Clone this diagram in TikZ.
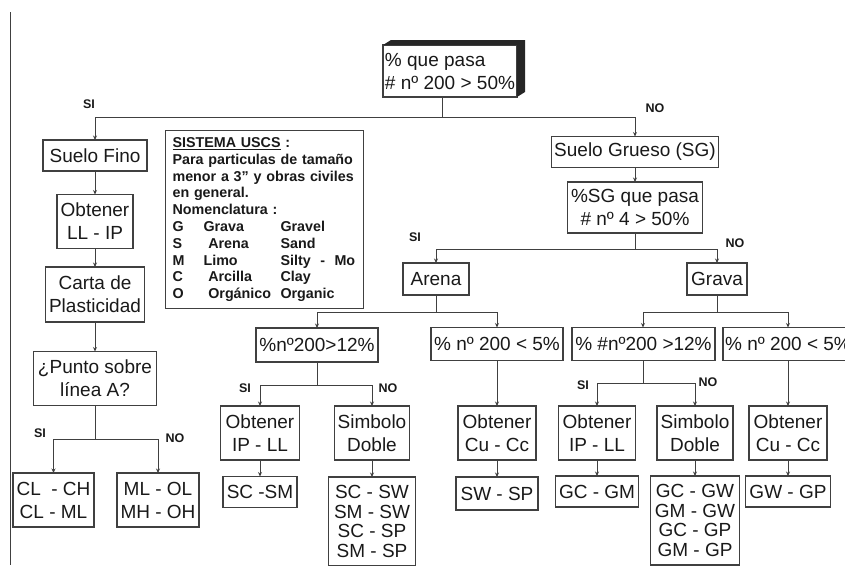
\documentclass[tikz,border=0pt]{standalone}
\usepackage{fontspec}
\setmainfont{Liberation Sans}
\usetikzlibrary{arrows.meta}

\begin{document}
\begin{tikzpicture}[x=1pt, y=-1pt,
    X/.style = {rectangle, draw=black!75, line width=1.1pt,% boxes of the chart
                inner sep=1pt, outer sep=0pt, align=center, text=black!90,
                minimum height=31pt,
                font=\fontsize{19}{23}\selectfont},
   XX/.style = {X, minimum height=54pt},% boxes with two lines
   XS/.style = {X, font=\fontsize{19}{19.7}\selectfont, minimum height=89pt},
    Y/.style = {X, align=left, minimum height=52pt},
    Z/.style = {font=\bfseries\fontsize{12.5}{14}\selectfont, text=black!90},
  lin/.style = {draw=black!75, line width=1pt},
 conn/.style = {lin, -{Stealth[length=4.5pt, width=4pt]}},
                        ]
\useasboundingbox (0,0) rectangle (845,565);
\draw[lin] (10,12) -- (10,565);
% top question
\node[Y, minimum width=134pt] (top) at (450,71) {\% que pasa\\\# nº 200 > 50\%};
\fill[black!85] (top.north west) -- ([shift={(8,-5)}]top.north west)
      -- ([shift={(8,-5)}]top.north east) -- ([shift={(8,-5)}]top.south east)
      -- (top.south east) -- (top.north east) -- cycle;
% fine soil
\node[X, minimum width=104pt] (fino)  at (95,155.5) {Suelo Fino};
\node[XX, minimum width=76pt] (obtLL) at (95,221.5) {Obtener\\LL - IP};
\node[XX, minimum width=99pt, minimum height=55pt] (carta) at (95,294.5) {Carta de\\Plasticidad};
\node[XX, minimum width=123pt] (punto) at (95,378.5) {¿Punto sobre\\línea A?};
\node[XX, minimum width=81pt] (clch)  at (53.5,500) {CL\ \ - CH\\CL - ML};
\node[XX, minimum width=82pt] (mlol)  at (158,500) {ML - OL\\MH - OH};
% legend
\node[draw=black!75, line width=1.1pt, anchor=north west, inner sep=7pt,
      text width=184pt, align=left, text=black!90,
      font=\bfseries\fontsize{14.3}{16.8}\selectfont] (uscs) at (165,130)
  {\underline{SISTEMA USCS} :\\
   Para particulas de tamaño\\
   menor a 3” y obras civiles\\
   en general.\\
   Nomenclatura :\\
   \makebox[31pt][l]{G}\makebox[77pt][l]{Grava}Gravel\\
   \makebox[31pt][l]{S}\makebox[77pt][l]{\ Arena}Sand\\
   \makebox[31pt][l]{M}\makebox[77pt][l]{Limo}Silty\ \ -\ \ Mo\\
   \makebox[31pt][l]{C}\makebox[77pt][l]{\ Arcilla}Clay\\
   \makebox[31pt][l]{O}\makebox[77pt][l]{\ Orgánico}Organic};
% coarse soil
\node[X, minimum width=167pt] (grueso) at (635,152) {Suelo Grueso (SG)};
\node[XX, minimum width=135pt, minimum height=51pt] (sgpasa) at (635,207.5) {\%SG que pasa\\\# nº 4 > 50\%};
\node[X, minimum width=66pt, minimum height=32pt] (arena) at (436,279) {Arena};
\node[X, minimum width=60pt, minimum height=32pt] (grava) at (717,279) {Grava};
\node[X, minimum width=122pt, minimum height=34pt] (sf12) at (317,345) {\%nº200>12\%};
\node[X, minimum width=132pt, minimum height=33pt] (sa5)  at (497,344) {\% nº 200 < 5\%};
\node[X, minimum width=143pt, minimum height=33pt] (gr12) at (643.5,344) {\% \#nº200 >12\%};
\node[X, minimum width=130pt, minimum height=33pt] (gr5)  at (788,344) {\% nº 200 < 5\%};
\node[XX, minimum width=79pt] (sobt) at (260,433) {Obtener\\IP - LL};
\node[XX, minimum width=75pt] (sdob) at (372,433) {Simbolo\\Doble};
\node[XX, minimum width=78pt] (acu)  at (497,433) {Obtener\\Cu - Cc};
\node[XX, minimum width=77pt] (gobt) at (597,433) {Obtener\\IP - LL};
\node[XX, minimum width=76pt] (gdob) at (695,433) {Simbolo\\Doble};
\node[XX, minimum width=78pt] (gcu)  at (788,433) {Obtener\\Cu - Cc};
\node[X, minimum width=74pt] (scsm) at (260,492) {SC -SM};
\node[XS, minimum width=87pt] (sstk) at (372,521.5) {SC - SW\\SM - SW\\SC - SP\\SM - SP};
\node[X, minimum width=82pt, minimum height=33pt] (swsp) at (497,493.5) {SW - SP};
\node[X, minimum width=83pt] (gcgm) at (597,491.5) {GC - GM};
\node[XS, minimum width=89pt] (gstk) at (695,520.5) {GC - GW\\GM - GW\\GC - GP\\GM - GP};
\node[X, minimum width=85pt] (gwgp) at (788,491.5) {GW - GP};
% SI / NO
\foreach \t/\x/\y [count=\i] in {SI/89/104, NO/655/108, SI/415/237, NO/735/243,
        SI/40/433, NO/175/438, SI/245/388, NO/388/388, SI/583/385, NO/708/382}
    \node[Z] (lbl\i) at (\x,\y) {\t};
% connectors
\coordinate (j0) at (442,117);
\draw[conn] (top.south -| j0) -- (j0) -| (fino.north);
\draw[conn] (j0) -| (grueso.north);
\draw[conn] (fino) -- (obtLL);
\draw[conn] (obtLL) -- (carta);
\draw[conn] (carta) -- (punto);
\coordinate (j1) at (95,439);
\draw[conn] (punto) -- (j1) -| (clch.north);
\draw[conn] (j1) -| (mlol.north);
\draw[conn] (grueso) -- (sgpasa);
\coordinate (j2) at (635,249);
\draw[conn] (sgpasa) -- (j2) -| (arena.north);
\draw[conn] (j2) -| (grava.north);
\coordinate (j3) at (436,312);
\draw[conn] (arena) -- (j3) -| (sf12.north);
\draw[conn] (j3) -| (sa5.north);
\coordinate (j4) at (717,312);
\draw[conn] (grava) -- (j4) -| ([xshift=-0.5pt]gr12.north);
\draw[conn] (j4) -| (gr5.north);
\coordinate (j5) at (317,385);
\draw[conn] (sf12) -- (j5) -| (sobt.north);
\draw[conn] (j5) -| (sdob.north);
\coordinate (j6) at (643,383);
\draw[conn] ([xshift=-0.5pt]gr12.south) -- (j6) -| (gobt.north);
\draw[conn] (j6) -| (gdob.north);
\draw[conn] (sa5) -- (acu);
\draw[conn] (gr5) -- (gcu);
\draw[conn] (sobt) -- (scsm);
\draw[conn] (sdob) -- (sstk);
\draw[conn] (acu) -- (swsp);
\draw[conn] (gobt) -- (gcgm);
\draw[conn] (gdob) -- (gstk);
\draw[conn] (gcu) -- (gwgp);
\end{tikzpicture}
\end{document}
